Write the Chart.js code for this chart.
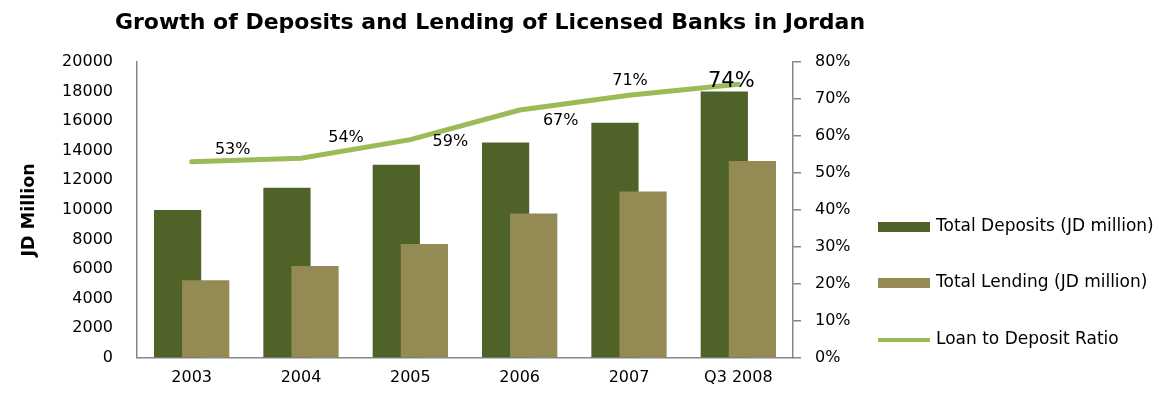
<!DOCTYPE html>
<html>
<head>
<meta charset="utf-8">
<title>Growth of Deposits and Lending of Licensed Banks in Jordan</title>
<script src="https://cdn.jsdelivr.net/npm/chart.js@4/dist/chart.umd.min.js"></script>
<style>
  html, body { margin: 0; padding: 0; background: #fff; }
  #wrap { width: 1159px; height: 401px; }
</style>
</head>
<body>
<div id="wrap"><canvas id="bankchart"></canvas></div>
<script>
'use strict';
const years = ['2003', '2004', '2005', '2006', '2007', 'Q3 2008'];
const deposits = [10000, 11500, 13050, 14550, 15900, 18000];
const lending = [5250, 6200, 7700, 9750, 11250, 13300];
const loanRatio = [53, 54, 59, 67, 71, 74];

const FONT = '"DejaVu Sans", sans-serif';
const AXIS_GREY = '#868686';
Chart.defaults.font.family = FONT;
Chart.defaults.color = '#000';

// where each ratio label sits relative to its point
const ratioLabelShift = [[41, -12], [45, -20], [40, 2], [41, 11], [1, -14], [-7, -3]];

const titlePlugin = {
  id: 'titlePlugin',
  afterDraw(chart) {
    const ctx = chart.ctx;
    ctx.save();
    ctx.font = 'bold 22px ' + FONT;
    ctx.fillStyle = '#000';
    ctx.textAlign = 'center';
    ctx.textBaseline = 'middle';
    ctx.fillText('Growth of Deposits and Lending of Licensed Banks in Jordan', 490, 23);
    ctx.restore();
  }
};

// deposits first, lending over them, ratio line on top
const layering = {
  id: 'layering',
  beforeDatasetsDraw(chart) {
    [0, 1, 2].forEach(i => chart.getDatasetMeta(i).controller.draw());
    return false;
  }
};

const ratioLabels = {
  id: 'ratioLabels',
  afterDraw(chart) {
    const ctx = chart.ctx;
    const pts = chart.getDatasetMeta(2).data;
    ctx.save();
    ctx.fillStyle = '#000';
    ctx.textAlign = 'center';
    ctx.textBaseline = 'middle';
    pts.forEach((p, i) => {
      const last = i === pts.length - 1;
      ctx.font = (last ? 21 : 16) + 'px ' + FONT;
      ctx.fillText(loanRatio[i] + '%', p.x + ratioLabelShift[i][0], p.y + ratioLabelShift[i][1]);
    });
    ctx.restore();
  }
};

const sideLegend = {
  id: 'sideLegend',
  afterDraw(chart) {
    const ctx = chart.ctx;
    const rows = [227, 283, 340];
    ctx.save();
    ctx.font = '17px ' + FONT;
    ctx.textBaseline = 'middle';
    chart.data.datasets.forEach((ds, i) => {
      const y = rows[i];
      if (ds.type === 'line') {
        ctx.strokeStyle = ds.borderColor;
        ctx.lineWidth = 4;
        ctx.beginPath();
        ctx.moveTo(878, y);
        ctx.lineTo(930, y);
        ctx.stroke();
      } else {
        ctx.fillStyle = ds.backgroundColor;
        ctx.fillRect(878, y - 5, 52, 10);
      }
      ctx.fillStyle = '#000';
      ctx.fillText(ds.label, 936, y);
    });
    ctx.restore();
  }
};

new Chart(document.getElementById('bankchart'), {
  type: 'bar',
  data: {
    labels: years,
    datasets: [
      {
        label: 'Total Deposits (JD million)',
        data: deposits,
        backgroundColor: '#4F6228',
        yAxisID: 'y',
        categoryPercentage: 0.514,
        barPercentage: 1.68
      },
      {
        label: 'Total Lending (JD million)',
        data: lending,
        backgroundColor: '#948A54',
        yAxisID: 'y',
        categoryPercentage: 0.514,
        barPercentage: 1.68
      },
      {
        type: 'line',
        label: 'Loan to Deposit Ratio',
        data: loanRatio,
        borderColor: '#9BBB59',
        backgroundColor: '#9BBB59',
        borderWidth: 5,
        borderCapStyle: 'round',
        pointRadius: 0,
        tension: 0,
        yAxisID: 'y1'
      }
    ]
  },
  options: {
    responsive: true,
    maintainAspectRatio: false,
    animation: false,
    layout: { padding: { top: 62, right: 296, bottom: 4, left: 0 } },
    plugins: {
      legend: { display: false },
      title: { display: false },
      tooltip: { enabled: false }
    },
    scales: {
      x: {
        grid: { display: true, drawOnChartArea: false, drawTicks: false },
        border: { color: AXIS_GREY, width: 1.5 },
        ticks: { font: { size: 16 }, padding: 10 }
      },
      y: {
        position: 'left',
        min: 0,
        max: 20000,
        grid: { display: true, drawOnChartArea: false, drawTicks: false },
        border: { color: AXIS_GREY, width: 1.5 },
        ticks: { stepSize: 2000, font: { size: 16 }, padding: 24, callback: v => String(v) },
        title: {
          display: true,
          text: 'JD Million',
          font: { size: 17.5, weight: 'bold' },
          padding: { top: 19, bottom: 0 }
        },
        afterFit(scale) { scale.width = 137; }
      },
      y1: {
        position: 'right',
        min: 0,
        max: 80,
        grid: { display: true, drawOnChartArea: false, drawTicks: true, tickLength: 8, color: AXIS_GREY, lineWidth: 1.5 },
        border: { color: AXIS_GREY, width: 1.5 },
        ticks: { stepSize: 10, font: { size: 16 }, padding: 14, callback: v => v + '%' },
        afterFit(scale) { scale.width = 70; }
      }
    }
  },
  plugins: [layering, ratioLabels, titlePlugin, sideLegend]
});
</script>
</body>
</html>
